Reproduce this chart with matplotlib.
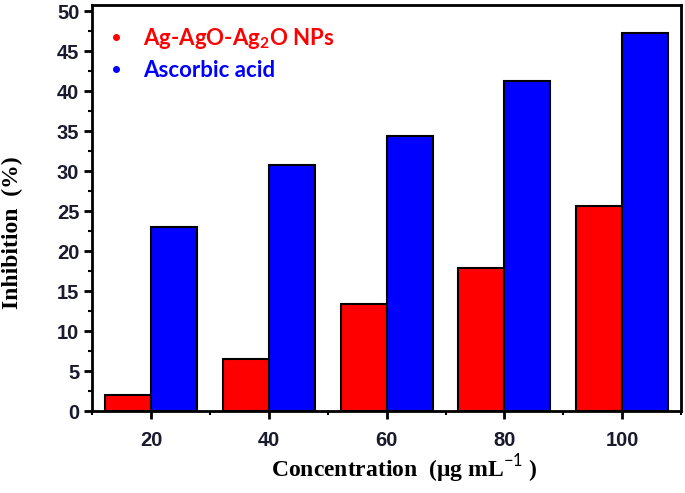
import numpy as np
import matplotlib.pyplot as plt
from matplotlib.lines import Line2D
from matplotlib.ticker import MultipleLocator

# data
concentration = [20, 40, 60, 80, 100]
nps_inhibition = [2.0, 6.5, 13.4, 17.9, 25.6]
ascorbic_inhibition = [23.0, 30.8, 34.4, 41.3, 47.3]

labels = ["Ag-AgO-Ag$_\\mathbf{2}$O NPs", "Ascorbic acid"]
colors = ['#ff0000', '#0000ff']

plt.rcParams['mathtext.fontset'] = 'custom'
plt.rcParams['mathtext.bf'] = 'Lato:bold'
plt.rcParams['mathtext.rm'] = 'Lato'

fig = plt.figure(figsize=(6.85, 4.93), dpi=100)
ax = fig.add_axes([0.135, 0.166, 0.859, 0.823])

x = np.array(concentration)
w = 7.8
ax.bar(x - w / 2, nps_inhibition, width=w, color=colors[0], edgecolor='black', lw=1.5)
ax.bar(x + w / 2, ascorbic_inhibition, width=w, color=colors[1], edgecolor='black', lw=1.5)

ax.set_xlim(10, 110)
ax.set_ylim(0, 50.7)
ax.set_xticks(concentration)
ax.xaxis.set_minor_locator(MultipleLocator(10))
ax.yaxis.set_major_locator(MultipleLocator(5))
ax.yaxis.set_minor_locator(MultipleLocator(2.5))

for s in ax.spines.values():
    s.set_linewidth(2)
ax.tick_params(which='major', direction='out', length=6, width=2, top=False, right=False)
ax.tick_params(which='minor', direction='out', length=3, width=1.5, top=False, right=False)
ax.tick_params(axis='x', pad=8)
for lab in ax.get_xticklabels() + ax.get_yticklabels():
    lab.set_fontfamily('Liberation Sans')
    lab.set_fontweight('bold')
    lab.set_fontsize(14.5)
    lab.set_color('#1a1a2e')

ax.set_ylabel("Inhibition  (%)", family='Liberation Serif', fontweight='bold', fontsize=17)
ax.set_xlabel("Concentration  (\u03bcg mL$^{-1}$ )", family='Liberation Serif', fontweight='bold', fontsize=17)
ax.yaxis.set_label_coords(-0.118, 0.44)
ax.xaxis.set_label_coords(0.53, -0.1)

handles = [Line2D([], [], marker='o', ls='none', color=c, markersize=4) for c in colors]
leg = ax.legend(handles, labels, loc='upper left', bbox_to_anchor=(0.03, 0.95), frameon=False,
                prop={'family': 'Lato', 'weight': 'bold', 'size': 16},
                borderpad=0, borderaxespad=0, handlelength=0.5,
                handletextpad=1.0, labelspacing=0.4)
for t, c in zip(leg.get_texts(), colors):
    t.set_color(c)

fig.savefig('out.png', dpi=100)
